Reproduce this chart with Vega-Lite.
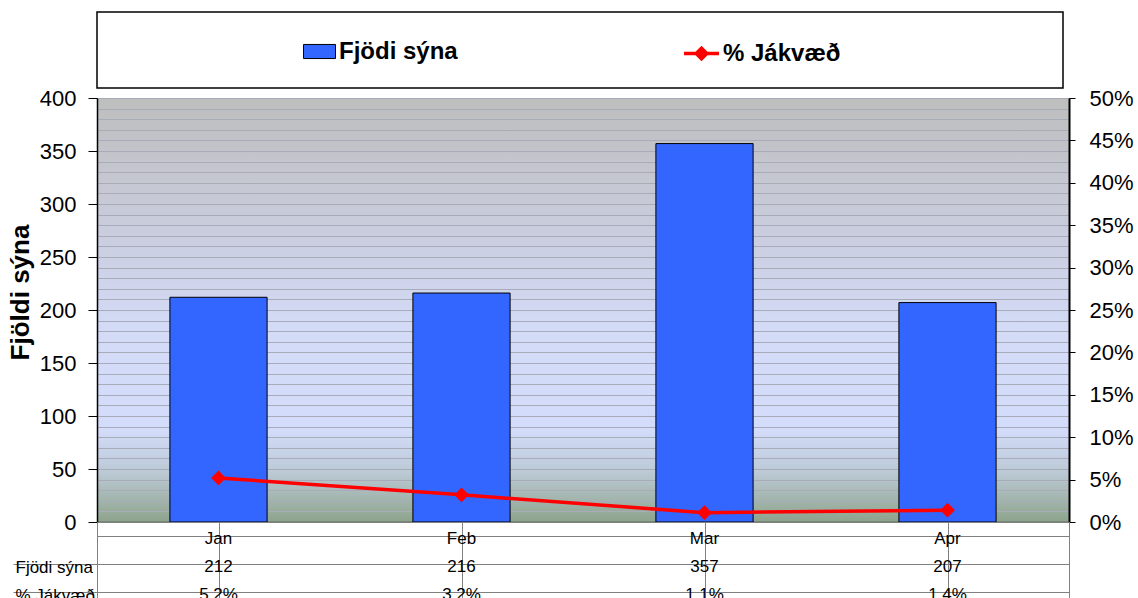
{
  "$schema": "https://vega.github.io/schema/vega-lite/v6.json",
  "autosize": {"type": "pad"},
  "padding": {"left": 6, "top": 11, "right": 0, "bottom": 0},
  "background": "white",
  "config": {
    "font": "Liberation Sans",
    "locale": {"number": {"decimal": ",", "thousands": ".", "grouping": [3], "currency": ["", " kr."]}},
    "axis": {"labelColor": "black", "titleColor": "black", "labelFont": "Liberation Sans", "titleFont": "Liberation Sans"},
    "legend": {"labelFont": "Liberation Sans", "labelFontSize": 24, "labelFontWeight": "bold", "labelColor": "black", "labelLimit": 300, "padding": 0}
  },
  "datasets": {
    "d": [
      {"month": "Jan", "count": 212, "pct": 0.052},
      {"month": "Feb", "count": 216, "pct": 0.032},
      {"month": "Mar", "count": 357, "pct": 0.011},
      {"month": "Apr", "count": 207, "pct": 0.014}
    ]
  },
  "bounds": "flush",
  "spacing": 10,
  "vconcat": [
    {
      "width": 966,
      "height": 76,
      "data": {"values": []},
      "mark": "point",
      "view": {"stroke": "black", "strokeWidth": 1.5, "fill": "white"}
    },
    {
      "bounds": "flush",
      "spacing": 0,
      "vconcat": [
        {
          "width": 972,
          "height": 424,
          "data": {"name": "d"},
          "view": {
            "stroke": "#808080",
            "fill": {
              "gradient": "linear", "x1": 0, "y1": 0, "x2": 0, "y2": 1,
              "stops": [
                {"offset": 0, "color": "#BEBEBE"},
                {"offset": 0.3, "color": "#C9CCDC"},
                {"offset": 0.55, "color": "#D3DBF7"},
                {"offset": 0.78, "color": "#D3DCFA"},
                {"offset": 0.88, "color": "#BCCAD6"},
                {"offset": 1, "color": "#8DA38B"}
              ]
            }
          },
          "encoding": {
            "x": {
              "field": "month", "type": "nominal", "sort": null,
              "scale": {"paddingInner": 0.6, "paddingOuter": 0.3},
              "axis": {"title": null, "labels": false, "ticks": false, "domainColor": "#303030", "domainWidth": 1.5}
            }
          },
          "layer": [
            {
              "mark": {"type": "bar", "stroke": "black", "strokeWidth": 1},
              "encoding": {
                "y": {
                  "field": "count", "type": "quantitative",
                  "scale": {"domain": [0, 400], "nice": false},
                  "axis": {
                    "title": "Fjöldi sýna", "titleFontSize": 26, "titleFontWeight": "bold", "titleY": 194, "titlePadding": 6,
                    "tickCount": 40,
                    "labelExpr": "datum.value % 50 === 0 ? datum.label : ''",
                    "tickOpacity": {"condition": {"test": "datum.value % 50 !== 0", "value": 0}, "value": 1},
                    "labelFontSize": 22, "labelPadding": 12, "tickSize": 9, "tickColor": "black",
                    "domainColor": "black", "domainWidth": 1.5,
                    "grid": true, "gridColor": "#A8ABB8", "gridWidth": 1
                  }
                },
                "fill": {
                  "datum": "Fjödi sýna", "type": "nominal",
                  "scale": {"domain": ["Fjödi sýna"], "range": ["#3366FF"]},
                  "legend": {
                    "title": null, "orient": "none", "legendX": 206, "legendY": 23,
                    "labelOffset": 3, "symbolSize": 1024,
                    "symbolType": "M-1,-0.44L1,-0.44L1,0.44L-1,0.44Z",
                    "symbolStrokeColor": "black", "symbolStrokeWidth": 1
                  }
                }
              }
            },
            {
              "mark": {"type": "line", "strokeWidth": 3.5, "color": "#FF0000", "point": {"shape": "diamond", "size": 144, "filled": true, "color": "#FF0000"}},
              "encoding": {
                "y": {
                  "field": "pct", "type": "quantitative",
                  "scale": {"domain": [0, 0.5], "nice": false},
                  "axis": {
                    "orient": "right", "title": null, "format": ".0%", "tickCount": 10,
                    "labelFontSize": 22, "labelPadding": 14, "tickSize": 6, "tickColor": "black",
                    "domainColor": "black", "domainWidth": 2, "grid": false
                  }
                },
                "stroke": {
                  "datum": "% Jákvæð", "type": "nominal",
                  "scale": {"domain": ["% Jákvæð"], "range": ["#FF0000"]},
                  "legend": {
                    "title": null, "orient": "none", "legendX": 585, "legendY": 22,
                    "labelOffset": 2, "symbolSize": 1225,
                    "symbolType": "M-1,0L1,0M0,-0.3L0.3,0L0,0.3L-0.3,0Z",
                    "symbolFillColor": "#FF0000", "symbolStrokeWidth": 3.5
                  }
                }
              }
            }
          ],
          "resolve": {"scale": {"y": "independent"}}
        },
        {
          "width": 972,
          "height": 84,
          "data": {"name": "d"},
          "view": {"stroke": "#808080", "fill": "white"},
          "encoding": {
            "x": {
              "field": "month", "type": "nominal", "sort": null,
              "scale": {"paddingInner": 0, "paddingOuter": 0},
              "axis": {"title": null, "labels": false, "ticks": false, "domain": false, "grid": true, "gridColor": "#808080", "bandPosition": 0}
            }
          },
          "layer": [
            {
              "mark": {"type": "text", "fontSize": 17, "dy": 3, "color": "black"},
              "encoding": {
                "y": {
                  "datum": "hdr", "type": "nominal",
                  "scale": {"domain": ["hdr", "Fjödi sýna", "% Jákvæð"], "paddingInner": 0, "paddingOuter": 0},
                  "axis": {
                    "title": null,
                    "labelExpr": "datum.value === 'hdr' ? '' : datum.label",
                    "labelAlign": "left", "labelPadding": -2, "labelOffset": 3, "labelFontSize": 17,
                    "tickSize": 84, "tickColor": "#808080",
                    "tickOpacity": {"condition": {"test": "datum.value === 'hdr'", "value": 0}, "value": 1},
                    "bandPosition": 0, "grid": true, "gridColor": "#808080", "domain": false
                  }
                },
                "text": {"field": "month", "type": "nominal"}
              }
            },
            {
              "mark": {"type": "text", "fontSize": 17, "dy": 3, "color": "black"},
              "encoding": {
                "y": {"datum": "Fjödi sýna", "type": "nominal"},
                "text": {"field": "count", "type": "quantitative"}
              }
            },
            {
              "mark": {"type": "text", "fontSize": 17, "dy": 3, "color": "black"},
              "encoding": {
                "y": {"datum": "% Jákvæð", "type": "nominal"},
                "text": {"field": "pct", "type": "quantitative", "format": ".1%"}
              }
            }
          ]
        }
      ]
    }
  ]
}
